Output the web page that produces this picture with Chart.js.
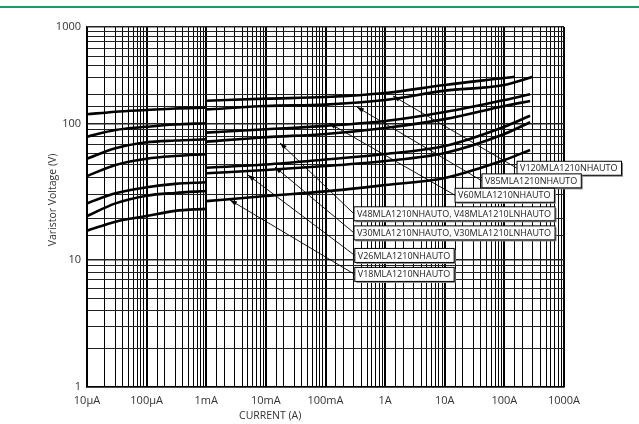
<!DOCTYPE html>
<html>
<head>
<meta charset="utf-8">
<script src="https://cdn.jsdelivr.net/npm/chart.js@4.4.1/dist/chart.umd.min.js"></script>
<style>
  body { margin: 0; background: #fff; }
  canvas { display: block; }
</style>
</head>
<body>
<canvas id="chart1" width="639" height="424"></canvas>
<script>
// currents (A) of the low range and the high range parts of each curve
const currentsLow = [1e-5, 3e-5, 1e-4, 3e-4, 1e-3];
const currentsHigh = [1e-3, 1e-2, 1e-1, 1, 10, 100];
const endCurrents = [150, 300, 270, 270, 270, 270, 270];

// varistor voltage (V), top curve first
const v120Low = [124.5, 132.5, 138, 143, 146];
const v120High = [172, 181, 188, 207, 251, 296, 305];
const v85Low = [80, 89.6, 94.6, 98.4, 100.5];
const v85High = [140, 152, 157, 175, 219, 251, 305];
const v60Low = [55.2, 65.8, 72.8, 75, 76.6];
const v60High = [85.7, 90.7, 96, 106, 131.5, 175, 201];
const v48Low = [41.2, 49.7, 55.2, 57.8, 59.5];
const v48High = [73.6, 79.3, 83.8, 92.7, 111, 152, 171];
const v30Low = [26, 30.8, 34.1, 36.1, 37.1];
const v30High = [47.4, 50.1, 54.5, 59.8, 68.4, 94.8, 120.5];
const v26Low = [21, 26, 29.6, 31, 32];
const v26High = [43.2, 45.6, 48.8, 53.1, 60.8, 83.8, 103];
const v18Low = [16.4, 19.1, 21, 22.9, 23.7];
const v18High = [27, 29.4, 31.8, 35.4, 39.9, 54, 64];

const xTickLabels = ['10µA', '100µA', '1mA', '10mA', '100mA', '1A', '10A', '100A', '1000A'];
const yTickLabels = ['1', '10', '100', '1000'];

const calloutText = [
    'V120MLA1210NHAUTO',
    'V85MLA1210NHAUTO',
    'V60MLA1210NHAUTO',
    'V48MLA1210NHAUTO, V48MLA1210LNHAUTO',
    'V30MLA1210NHAUTO, V30MLA1210LNHAUTO',
    'V26MLA1210NHAUTO',
    'V18MLA1210NHAUTO'
];
// arrow tip and box anchor (left middle), as [current A, voltage V]
const calloutTip = [[1.36, 192.7], [0.337, 148], [0.1146, 101], [0.01726, 72], [0.01422, 48], [0.005, 42], [0.0025, 27.5]];
const calloutBox = [[163, 47], [42, 38], [14.9, 29.8], [0.30, 21.8], [0.30, 15.8], [0.31, 10.8], [0.31, 7.7]];

// the printed grid is not evenly spaced: fraction of the height at 1, 10, 100, 1000 V
const yDecadeStops = [0, 127 / 360, 263.5 / 360, 1];

class StretchedLogScale extends Chart.LogarithmicScale {
    getPixelForValue(value) {
        if (value === undefined || value === 0) value = this.min;
        if (value === null || isNaN(value)) return NaN;
        const l = Math.log10(value) - Math.log10(this.min);
        const i = Math.max(0, Math.min(yDecadeStops.length - 2, Math.floor(l)));
        const dec = yDecadeStops[i] + (l - i) * (yDecadeStops[i + 1] - yDecadeStops[i]);
        return this.getPixelForDecimal(dec);
    }
    getValueForPixel(pixel) {
        const dec = this.getDecimalForPixel(pixel);
        let i = 0;
        while (i < yDecadeStops.length - 2 && dec > yDecadeStops[i + 1]) i++;
        const l = i + (dec - yDecadeStops[i]) / (yDecadeStops[i + 1] - yDecadeStops[i]);
        return Math.pow(10, l + Math.log10(this.min));
    }
}
StretchedLogScale.id = 'stretchedLog';
StretchedLogScale.defaults = Chart.LogarithmicScale.defaults;
Chart.register(StretchedLogScale);

function decadeIndex(v) {
    const l = Math.log10(v);
    return Math.abs(l - Math.round(l)) < 1e-6 ? Math.round(l) : null;
}

function points(xs, ys) {
    return ys.map((y, i) => ({ x: xs[i], y: y }));
}

const lowSets = [v120Low, v85Low, v60Low, v48Low, v30Low, v26Low, v18Low];
const highSets = [v120High, v85High, v60High, v48High, v30High, v26High, v18High];
const datasets = [];
lowSets.forEach((ys, k) => {
    datasets.push({ label: calloutText[k], data: points(currentsLow, ys) });
    datasets.push({ label: calloutText[k], data: points(currentsHigh.concat([endCurrents[k]]), highSets[k]) });
});
datasets.forEach(d => {
    d.borderColor = '#000';
    d.borderWidth = 2.6;
    d.pointRadius = 0;
    d.fill = false;
    d.cubicInterpolationMode = 'monotone';
});

const decorations = {
    id: 'decorations',
    beforeDraw(chart) {
        const c = chart.ctx;
        c.save();
        c.fillStyle = '#fff';
        c.fillRect(0, 0, chart.width, chart.height);
        c.fillStyle = '#2a9466';
        c.fillRect(0, 6, chart.width, 2);
        c.restore();
    },
    afterDatasetsDraw(chart) {
        const c = chart.ctx;
        const xs = chart.scales.x, ys = chart.scales.y;
        c.save();
        c.font = '9px "Open Sans"';
        c.textBaseline = 'middle';
        calloutText.forEach((t, k) => {
            const tx = xs.getPixelForValue(calloutTip[k][0]);
            const ty = ys.getPixelForValue(calloutTip[k][1]);
            const bx = xs.getPixelForValue(calloutBox[k][0]);
            const by = ys.getPixelForValue(calloutBox[k][1]);
            // leader line with arrow head at the curve
            c.strokeStyle = '#000';
            c.lineWidth = 0.9;
            c.beginPath();
            c.moveTo(bx, by);
            c.lineTo(tx, ty);
            c.stroke();
            const a = Math.atan2(ty - by, tx - bx);
            c.fillStyle = '#000';
            c.beginPath();
            c.moveTo(tx, ty);
            c.lineTo(tx - 7 * Math.cos(a) + 2.4 * Math.sin(a), ty - 7 * Math.sin(a) - 2.4 * Math.cos(a));
            c.lineTo(tx - 7 * Math.cos(a) - 2.4 * Math.sin(a), ty - 7 * Math.sin(a) + 2.4 * Math.cos(a));
            c.closePath();
            c.fill();
            // label box with a light shadow
            const w = c.measureText(t).width + 7;
            const h = 14;
            c.fillStyle = '#888';
            c.fillRect(bx + 1.5, by - h / 2 + 1.5, w, h);
            c.fillStyle = '#fff';
            c.fillRect(bx, by - h / 2, w, h);
            c.lineWidth = 1;
            c.strokeRect(bx, by - h / 2, w, h);
            c.fillStyle = '#222';
            c.fillText(t, bx + 3, by + 0.5);
        });
        c.restore();
    },
    afterDraw(chart) {
        const c = chart.ctx;
        const area = chart.chartArea;
        c.save();
        c.fillStyle = '#333';
        c.font = '10.5px "Open Sans"';
        c.textAlign = 'center';
        c.textBaseline = 'middle';
        c.fillText('CURRENT (A)', area.left + 0.384 * (area.right - area.left), 416);
        c.translate(53, 200);
        c.rotate(-Math.PI / 2);
        c.fillText('Varistor Voltage (V)', 0, 0);
        c.restore();
    }
};

Chart.defaults.font.family = '"Open Sans", sans-serif';
Chart.defaults.color = '#333';

const ctx1 = document.getElementById('chart1').getContext('2d');
const chart1 = new Chart(ctx1, {
    type: 'line',
    data: { datasets: datasets },
    options: {
        responsive: false,
        animation: false,
        layout: { padding: { top: 27, right: 75, left: 0, bottom: 0 } },
        plugins: {
            legend: { display: false },
            tooltip: { enabled: false }
        },
        scales: {
            x: {
                type: 'logarithmic',
                min: 1e-5,
                max: 1e3,
                afterFit: s => { s.height = 37; },
                border: { display: true, color: '#000', width: 1.5 },
                grid: {
                    color: '#000',
                    drawTicks: false,
                    lineWidth: c => (c.tick && decadeIndex(c.tick.value) !== null ? 2 : 1)
                },
                ticks: {
                    autoSkip: false,
                    maxRotation: 0,
                    padding: 7,
                    font: { size: 11 },
                    callback: v => {
                        const d = decadeIndex(v);
                        return d === null ? '' : xTickLabels[d + 5];
                    }
                }
            },
            y: {
                type: 'stretchedLog',
                min: 1,
                max: 1000,
                afterFit: s => { s.width = 87; },
                border: { display: true, color: '#000', width: 1.5 },
                grid: {
                    color: '#222',
                    drawTicks: false,
                    lineWidth: c => (c.tick && decadeIndex(c.tick.value) !== null ? 1.5 : 1)
                },
                ticks: {
                    autoSkip: false,
                    padding: 6,
                    font: { size: 11 },
                    callback: v => {
                        const d = decadeIndex(v);
                        return d === null ? '' : yTickLabels[d];
                    }
                }
            }
        }
    },
    plugins: [decorations]
});
</script>
</body>
</html>
